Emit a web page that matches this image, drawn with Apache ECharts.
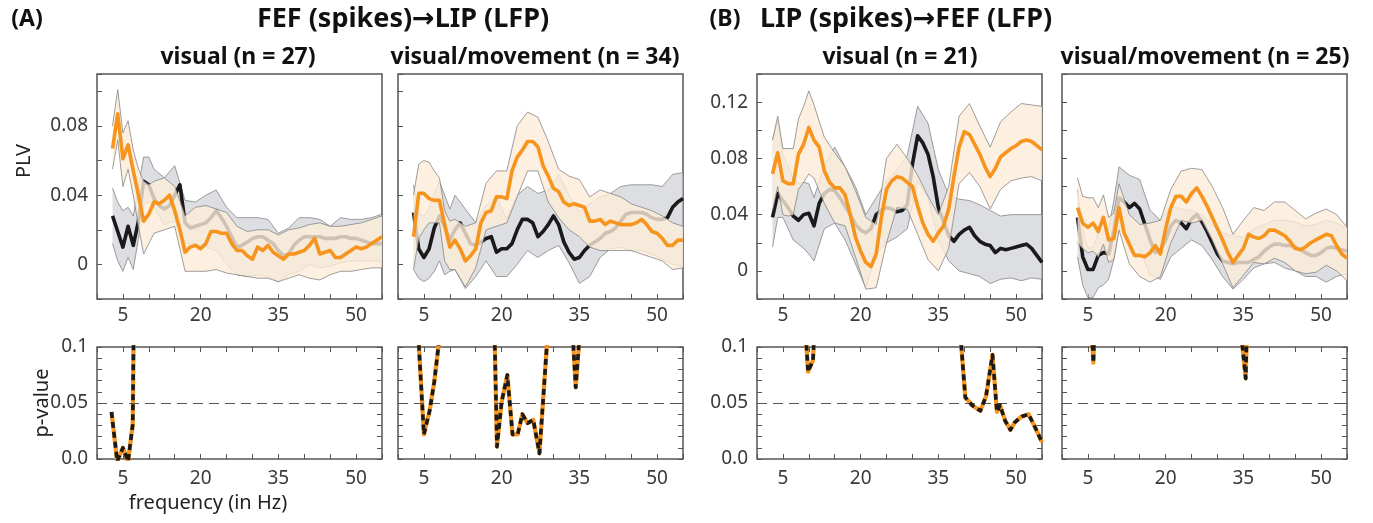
<!DOCTYPE html>
<html>
<head>
<meta charset="utf-8">
<script src="https://cdn.jsdelivr.net/npm/echarts@6/dist/echarts.min.js"></script>
<style>
    html, body { margin: 0; padding: 0; background: #fff; }
    #chart { width: 1373px; height: 523px; }
</style>
</head>
<body>
<div id="chart"></div>
<script>
    // frequency grid of the PLV curves (Hz)
    const freq = [3,4,5,6,7,8,9,10,11,12,13,14,15,16,17,18,19,20,21,22,23,24,25,26,27,28,29,30,31,32,33,34,35,36,37,38,39,40,41,42,43,44,45,46,47,48,49,50,51,52,53,54,55];
    // frequency grid of the confidence bands (Hz)
    const bandFreq = [3,4,5,6,7,8,9,10,11,13,15,17,19,21,23,25,27,29,31,33,35,37,39,41,43,45,47,49,51,53,55];
    const xTickLabels = [5, 20, 35, 50];
    const pThreshold = 0.05;

    // (A) FEF -> LIP, visual
    const aVisOrange = [0.067,0.087,0.061,0.069,0.054,0.040,0.025,0.029,0.036,0.035, 0.037,0.040,0.031,0.020,0.007,0.010,0.011,0.009,0.012,0.019, 0.019,0.018,0.018,0.012,0.008,0.008,0.005,0.003,0.010,0.008, 0.011,0.007,0.005,0.003,0.006,0.006,0.007,0.008,0.011,0.015, 0.006,0.007,0.008,0.004,0.004,0.006,0.008,0.010,0.009,0.010, 0.012,0.014,0.016];
    const aVisBlack = [0.028,0.019,0.010,0.022,0.011,0.025,0.048,0.046,0.038,0.034, 0.032,0.034,0.040,0.046,0.024,0.021,0.022,0.023,0.024,0.027, 0.031,0.027,0.022,0.016,0.010,0.011,0.013,0.015,0.016,0.016, 0.014,0.012,0.008,0.005,0.006,0.011,0.014,0.016,0.016,0.016, 0.016,0.015,0.015,0.015,0.016,0.016,0.015,0.015,0.014,0.013, 0.012,0.012,0.012];
    const aVisBlackHi = [0.044,0.036,0.031,0.033,0.028,0.045,0.062,0.062,0.055, 0.050,0.057,0.037,0.036,0.040,0.043,0.033,0.027,0.027,0.027,0.026,0.018,0.021,0.027,0.027,0.026,0.022,0.027,0.026,0.026,0.027,0.029];
    const aVisBlackLo = [0.012,0.002,-0.004,0.004,-0.003,0.015,0.035,0.036,0.033, 0.023,0.025,0.012,0.012,0.010,0.008,0.000,-0.006,-0.007,-0.006,-0.007,-0.010,-0.006,-0.004,0.000,-0.002,-0.001,0.001,0.002,0.002,0.002,0.002];
    const aVisOrangeHi = [0.080,0.101,0.076,0.083,0.066,0.055,0.048,0.046,0.048, 0.050,0.045,0.028,0.033,0.034,0.032,0.030,0.022,0.019,0.020,0.020,0.017,0.020,0.021,0.023,0.024,0.022,0.022,0.023,0.024,0.026,0.028];
    const aVisOrangeLo = [0.055,0.072,0.045,0.055,0.040,0.022,0.006,0.012,0.018, 0.020,0.022,-0.004,-0.004,-0.004,-0.003,-0.005,-0.006,-0.007,-0.008,-0.008,-0.010,-0.008,-0.006,-0.008,-0.009,-0.006,-0.004,-0.004,-0.003,-0.002,-0.002];

    // (A) FEF -> LIP, visual/movement
    const aVmOrange = [0.016,0.041,0.041,0.038,0.037,0.037,0.023,0.010,0.014,0.009, 0.002,0.005,0.009,0.024,0.030,0.031,0.039,0.039,0.038,0.054, 0.062,0.066,0.071,0.071,0.068,0.057,0.051,0.044,0.042,0.036, 0.034,0.035,0.034,0.033,0.025,0.025,0.026,0.023,0.025,0.024, 0.023,0.023,0.023,0.024,0.026,0.023,0.019,0.018,0.015,0.011, 0.011,0.014,0.014];
    const aVmBlack = [0.030,0.009,0.004,0.009,0.021,0.028,0.022,0.014,0.020,0.024, 0.018,0.012,0.011,0.013,0.015,0.016,0.007,0.009,0.009,0.012, 0.020,0.026,0.026,0.024,0.016,0.019,0.023,0.028,0.023,0.013, 0.007,0.003,0.004,0.008,0.011,0.013,0.015,0.018,0.019,0.021, 0.025,0.029,0.030,0.030,0.030,0.029,0.027,0.026,0.026,0.027, 0.033,0.036,0.038];
    const aVmBlackHi = [0.046,0.029,0.028,0.032,0.041,0.048,0.040,0.032,0.040, 0.032,0.024,0.034,0.039,0.026,0.040,0.045,0.041,0.043,0.052,0.040,0.030,0.035,0.039,0.041,0.045,0.046,0.046,0.046,0.045,0.052,0.053];
    const aVmBlackLo = [-0.003,-0.008,-0.010,-0.008,-0.004,0.002,-0.006,-0.004,-0.003, -0.014,-0.007,0.002,-0.007,-0.007,0.000,0.008,0.004,0.008,0.011,0.001,-0.011,-0.007,0.004,0.009,0.010,0.008,0.008,0.006,0.003,0.000,-0.001];
    const aVmOrangeHi = [0.040,0.058,0.060,0.059,0.054,0.050,0.031,0.025,0.026, 0.022,0.024,0.047,0.054,0.054,0.080,0.088,0.085,0.071,0.055,0.051,0.049,0.039,0.043,0.041,0.039,0.035,0.033,0.031,0.028,0.024,0.022];
    const aVmOrangeLo = [-0.003,0.015,0.020,0.024,0.024,0.024,0.002,-0.003,-0.003, -0.013,-0.002,0.020,0.022,0.024,0.039,0.054,0.054,0.036,0.027,0.020,0.016,0.010,0.008,0.008,0.008,0.008,0.006,0.004,0.002,-0.003,-0.002];

    // (B) LIP -> FEF, visual
    const bVisOrange = [0.069,0.084,0.064,0.062,0.062,0.083,0.090,0.102,0.093,0.088, 0.071,0.063,0.059,0.059,0.054,0.040,0.024,0.014,0.006,0.003, 0.012,0.038,0.058,0.064,0.067,0.066,0.063,0.060,0.046,0.034, 0.026,0.021,0.027,0.032,0.044,0.067,0.088,0.099,0.097,0.090, 0.083,0.074,0.067,0.073,0.081,0.084,0.087,0.089,0.092,0.093, 0.092,0.089,0.086];
    const bVisBlack = [0.038,0.055,0.050,0.045,0.039,0.036,0.040,0.041,0.032,0.048, 0.055,0.058,0.057,0.052,0.046,0.040,0.033,0.029,0.027,0.030, 0.040,0.043,0.045,0.044,0.042,0.043,0.047,0.076,0.096,0.091, 0.083,0.067,0.045,0.035,0.025,0.021,0.026,0.029,0.031,0.025, 0.021,0.019,0.018,0.013,0.016,0.015,0.016,0.017,0.018,0.019, 0.016,0.011,0.006];
    const bVisBlackHi = [0.093,0.107,0.082,0.075,0.065,0.062,0.063,0.062,0.052, 0.075,0.088,0.074,0.060,0.040,0.052,0.064,0.072,0.082,0.117,0.105,0.072,0.054,0.051,0.050,0.047,0.043,0.039,0.040,0.040,0.040,0.040];
    const bVisBlackLo = [0.017,0.038,0.038,0.030,0.022,0.019,0.016,0.012,0.007, 0.030,0.034,0.022,0.005,-0.012,0.012,0.020,0.024,0.030,0.064,0.052,0.022,0.007,0.000,-0.002,-0.004,-0.009,-0.006,-0.005,-0.007,-0.005,-0.006];
    const bVisOrangeHi = [0.093,0.110,0.087,0.087,0.087,0.108,0.117,0.128,0.118, 0.095,0.084,0.074,0.057,0.038,0.033,0.080,0.090,0.080,0.068,0.053,0.040,0.060,0.110,0.119,0.103,0.088,0.106,0.113,0.119,0.118,0.117];
    const bVisOrangeLo = [0.043,0.060,0.040,0.039,0.040,0.058,0.063,0.069,0.066, 0.048,0.034,0.032,0.010,-0.013,-0.012,0.020,0.045,0.044,0.026,0.008,0.000,0.016,0.062,0.070,0.060,0.044,0.058,0.064,0.066,0.067,0.064];

    // (B) LIP -> FEF, visual/movement
    const bVmOrange = [0.045,0.034,0.031,0.034,0.028,0.038,0.022,0.023,0.045,0.027, 0.019,0.011,0.011,0.010,0.013,0.018,0.012,0.030,0.045,0.053, 0.053,0.049,0.055,0.059,0.053,0.046,0.038,0.030,0.022,0.013, 0.006,0.011,0.016,0.026,0.024,0.023,0.025,0.029,0.029,0.027, 0.025,0.021,0.016,0.015,0.017,0.020,0.022,0.024,0.026,0.025, 0.018,0.012,0.009];
    const bVmBlack = [0.038,0.010,0.001,0.001,0.011,0.013,0.012,0.028,0.052,0.049, 0.045,0.048,0.044,0.033,0.022,0.013,0.015,0.022,0.032,0.036, 0.034,0.030,0.037,0.040,0.035,0.028,0.020,0.012,0.007,0.006, 0.005,0.006,0.006,0.006,0.008,0.010,0.014,0.017,0.019,0.019, 0.018,0.018,0.017,0.015,0.013,0.011,0.011,0.013,0.016,0.017, 0.016,0.015,0.014];
    const bVmBlackHi = [0.058,0.030,0.016,0.017,0.027,0.030,0.030,0.050,0.074, 0.068,0.065,0.043,0.036,0.046,0.044,0.043,0.040,0.033,0.027,0.025,0.024,0.030,0.033,0.036,0.036,0.035,0.032,0.033,0.036,0.034,0.030];
    const bVmBlackLo = [0.010,-0.010,-0.019,-0.019,-0.012,-0.010,-0.006,0.008,0.030, 0.022,0.015,-0.003,-0.006,0.010,0.016,0.022,0.018,0.008,-0.004,-0.013,-0.006,0.002,0.005,0.006,0.002,0.000,-0.004,-0.004,-0.008,-0.004,-0.002];
    const bVmOrangeHi = [0.066,0.053,0.052,0.052,0.045,0.054,0.038,0.041,0.062, 0.040,0.033,0.034,0.036,0.058,0.071,0.073,0.072,0.060,0.045,0.026,0.036,0.045,0.043,0.049,0.049,0.043,0.037,0.041,0.044,0.040,0.031];
    const bVmOrangeLo = [0.020,0.016,0.013,0.014,0.010,0.019,0.006,0.008,0.029, 0.005,-0.004,-0.008,-0.004,0.020,0.036,0.034,0.036,0.022,0.005,-0.012,-0.003,0.006,0.005,0.009,0.006,0.000,-0.002,-0.001,0.004,0.000,-0.007];

    // p-values (null = gap); values above 0.1 leave the plot
    const pFreqAVis = [2.8, 3.9, 5.0, 6.0, 6.9, 7.1];
    const pValAVis = [0.042, -0.002, 0.010, -0.002, 0.031, 0.13];
    const pFreqAVm = [3.8, 5.0, 6.1, 7.0, 8.3, 13, 18.6, 19.1, 20.0, 21.1, 22.1, 23.1, 24.0, 25.0, 26.1, 27.3, 29.0, 31, 33.6, 34.3, 35.2];
    const pValAVm = [0.12, 0.022, 0.043, 0.069, 0.12, null, 0.12, 0.011, 0.051, 0.075, 0.022, 0.022, 0.040, 0.032, 0.035, 0.005, 0.12, null, 0.12, 0.064, 0.12];
    const pFreqBVis = [9.3, 9.85, 10.8, 11.15, 20, 39.1, 40.2, 41.5, 43.1, 44.2, 45.45, 46.3, 46.9, 47.9, 48.9, 49.8, 51.1, 52.4, 53.7, 55.0];
    const pValBVis = [0.12, 0.078, 0.088, 0.12, null, 0.12, 0.055, 0.048, 0.043, 0.056, 0.093, 0.042, 0.048, 0.034, 0.026, 0.033, 0.038, 0.040, 0.028, 0.015];
    const pFreqBVm = [5.7, 6.05, 6.3, 20, 34.4, 35.45, 35.7];
    const pValBVm = [0.12, 0.086, 0.12, null, 0.12, 0.072, 0.12];

    const panels = [
        { left: 97, yMax: 0.11, labels: true, black: aVisBlack, orange: aVisOrange, bHi: aVisBlackHi, bLo: aVisBlackLo, oHi: aVisOrangeHi, oLo: aVisOrangeLo, pf: pFreqAVis, pv: pValAVis },
        { left: 398, yMax: 0.11, labels: false, black: aVmBlack, orange: aVmOrange, bHi: aVmBlackHi, bLo: aVmBlackLo, oHi: aVmOrangeHi, oLo: aVmOrangeLo, pf: pFreqAVm, pv: pValAVm },
        { left: 757, yMax: 0.14, labels: true, black: bVisBlack, orange: bVisOrange, bHi: bVisBlackHi, bLo: bVisBlackLo, oHi: bVisOrangeHi, oLo: bVisOrangeLo, pf: pFreqBVis, pv: pValBVis },
        { left: 1062, yMax: 0.14, labels: false, black: bVmBlack, orange: bVmOrange, bHi: bVmBlackHi, bLo: bVmBlackLo, oHi: bVmOrangeHi, oLo: bVmOrangeLo, pf: pFreqBVm, pv: pValBVm }
    ];

    const FONT = '"Noto Sans", "DejaVu Sans", sans-serif';
    const ORANGE = '#f7941d';
    const BOX_W = 285;
    const axisGrey = '#555';
    const tickStyle = { show: true, inside: true, length: 5, lineStyle: { color: axisGrey, width: 1 } };
    const noLine = { show: false, onZero: false };

    const grid = [], xAxis = [], yAxis = [], series = [];

    function bandSeries (idx, lo, hi, fill, z) {
        return {
            type: 'custom',
            xAxisIndex: idx,
            yAxisIndex: idx,
            z: z,
            silent: true,
            clip: true,
            data: bandFreq.map((f, i) => [f, lo[i], hi[i]]),
            encode: { x: 0, y: [1, 2] },
            renderItem: function (params, api) {
                if (params.dataIndex !== 0) return null;
                const up = bandFreq.map((f, i) => api.coord([f, hi[i]]));
                const dn = bandFreq.map((f, i) => api.coord([f, lo[i]]));
                return {
                    type: 'group',
                    children: [
                        { type: 'polygon', shape: { points: up.concat(dn.slice().reverse()) }, style: { fill: fill, stroke: null } },
                        { type: 'polyline', shape: { points: up }, style: { stroke: '#858585', lineWidth: 0.8, fill: 'none' } },
                        { type: 'polyline', shape: { points: dn }, style: { stroke: '#858585', lineWidth: 0.8, fill: 'none' } }
                    ]
                };
            }
        };
    }

    function curve (idx, xs, ys, color, z, extra) {
        return Object.assign({
            type: 'line',
            xAxisIndex: idx,
            yAxisIndex: idx,
            z: z,
            silent: true,
            symbol: 'none',
            clip: true,
            data: xs.map((f, i) => [f, ys[i]]),
            lineStyle: { color: color, width: 3.6, join: 'round' }
        }, extra || {});
    }

    const xLabelFmt = v => xTickLabels.indexOf(Math.round(v)) >= 0 ? String(Math.round(v)) : '';

    panels.forEach((p, i) => {
        // top PLV panel
        grid.push({ left: p.left, top: 74, width: BOX_W, height: 225, show: true, borderColor: axisGrey, borderWidth: 1.5, backgroundColor: 'transparent' });
        // bottom p-value panel
        grid.push({ left: p.left, top: 347, width: BOX_W, height: 112, show: true, borderColor: axisGrey, borderWidth: 1.5, backgroundColor: 'transparent' });
    });

    // axes: indices 0-3 top panels, 4-7 bottom panels, 8-11 mirror axes of bottom panels
    panels.forEach((p, i) => {
        xAxis[i] = {
            type: 'value', gridIndex: 2 * i, min: 0, max: 55, interval: 5,
            axisLine: noLine, splitLine: { show: false }, axisTick: tickStyle,
            axisLabel: { margin: 7, fontSize: 19, fontFamily: FONT, color: '#3a3a3a', formatter: xLabelFmt }
        };
        yAxis[i] = {
            type: 'value', gridIndex: 2 * i, min: -0.02, max: p.yMax, interval: 0.02,
            axisLine: noLine, splitLine: { show: false }, axisTick: tickStyle,
            axisLabel: {
                show: p.labels, margin: 9, fontSize: 19, fontFamily: FONT, color: '#3a3a3a',
                formatter: v => {
                    const k = Math.round(v * 100);
                    if (k === 0) return '0';
                    return (k > 0 && k % 4 === 0) ? (k / 100).toFixed(2) : '';
                }
            }
        };
        xAxis[4 + i] = {
            type: 'value', gridIndex: 2 * i + 1, min: 0, max: 55, interval: 5,
            axisLine: noLine, splitLine: { show: false }, axisTick: tickStyle,
            axisLabel: { margin: 10, fontSize: 19, fontFamily: FONT, color: '#3a3a3a', formatter: xLabelFmt }
        };
        yAxis[4 + i] = {
            type: 'value', gridIndex: 2 * i + 1, min: 0, max: 0.1, interval: 0.01,
            axisLine: noLine, splitLine: { show: false }, axisTick: tickStyle,
            axisLabel: {
                show: p.labels, margin: 9, fontSize: 19, fontFamily: FONT, color: '#3a3a3a',
                formatter: v => {
                    const k = Math.round(v * 100);
                    if (k === 0) return '0.0';
                    if (k === 5) return '0.05';
                    if (k === 10) return '0.1';
                    return '';
                }
            }
        };
        xAxis[8 + i] = {
            type: 'value', gridIndex: 2 * i + 1, position: 'top', min: 0, max: 55, interval: 5,
            axisLine: noLine, splitLine: { show: false }, axisTick: tickStyle, axisLabel: { show: false }
        };
        yAxis[8 + i] = {
            type: 'value', gridIndex: 2 * i + 1, position: 'right', min: 0, max: 0.1, interval: 0.01,
            axisLine: noLine, splitLine: { show: false }, axisTick: tickStyle, axisLabel: { show: false }
        };

        // PLV: grey band, black line, orange band, orange line
        series.push(bandSeries(i, p.bLo, p.bHi, 'rgba(196,200,206,0.6)', 1));
        series.push(curve(i, freq, p.black, '#1a1a1a', 2));
        series.push(bandSeries(i, p.oLo, p.oHi, 'rgba(252,236,216,0.8)', 3));
        series.push(curve(i, freq, p.orange, ORANGE, 4));

        // p-values: orange line with black dashes on top
        series.push(curve(4 + i, p.pf, p.pv, ORANGE, 4, {
            lineStyle: { color: ORANGE, width: 4.2, join: 'round' },
            markLine: {
                silent: true, symbol: ['none', 'none'], label: { show: false },
                lineStyle: { color: '#555', width: 1, type: [10, 6] },
                data: [{ yAxis: pThreshold }]
            }
        }));
        series.push(curve(4 + i, p.pf, p.pv, '#1a1a1a', 5, {
            lineStyle: { color: '#1a1a1a', width: 3.6, type: [6, 4], join: 'round' }
        }));
    });

    const boldText = (text, x, y, size) => ({
        type: 'text', x: x, y: y, silent: true,
        style: { text: text, fontSize: size, fontWeight: 'bold', fontFamily: FONT, fill: '#111', textAlign: 'center', textVerticalAlign: 'middle', align: 'center', verticalAlign: 'middle' }
    });
    const plainText = (text, x, y, rot) => ({
        type: 'text', x: x, y: y, rotation: rot || 0, silent: true,
        style: { text: text, fontSize: 20, fontFamily: FONT, fill: '#222', textAlign: 'center', textVerticalAlign: 'middle', align: 'center', verticalAlign: 'middle' }
    });

    const graphic = [
        boldText('(A)', 27, 19, 23),
        boldText('FEF (spikes)\u2192LIP (LFP)', 403, 19, 27),
        boldText('(B)', 725, 19, 23),
        boldText('LIP (spikes)\u2192FEF (LFP)', 906, 19, 27),
        boldText('visual (n = 27)', 238, 57, 23),
        boldText('visual/movement (n = 34)', 535, 57, 23),
        boldText('visual (n = 21)', 900, 57, 23),
        boldText('visual/movement (n = 25)', 1205, 57, 23),
        plainText('PLV', 24, 161, Math.PI / 2),
        plainText('p-value', 42, 403, Math.PI / 2),
        plainText('frequency (in Hz)', 208, 503)
    ];

    const chart = echarts.init(document.getElementById('chart'));
    chart.setOption({
        animation: false,
        backgroundColor: '#fff',
        textStyle: { fontFamily: FONT },
        grid: grid,
        xAxis: xAxis,
        yAxis: yAxis,
        series: series,
        graphic: graphic
    });
</script>
</body>
</html>
